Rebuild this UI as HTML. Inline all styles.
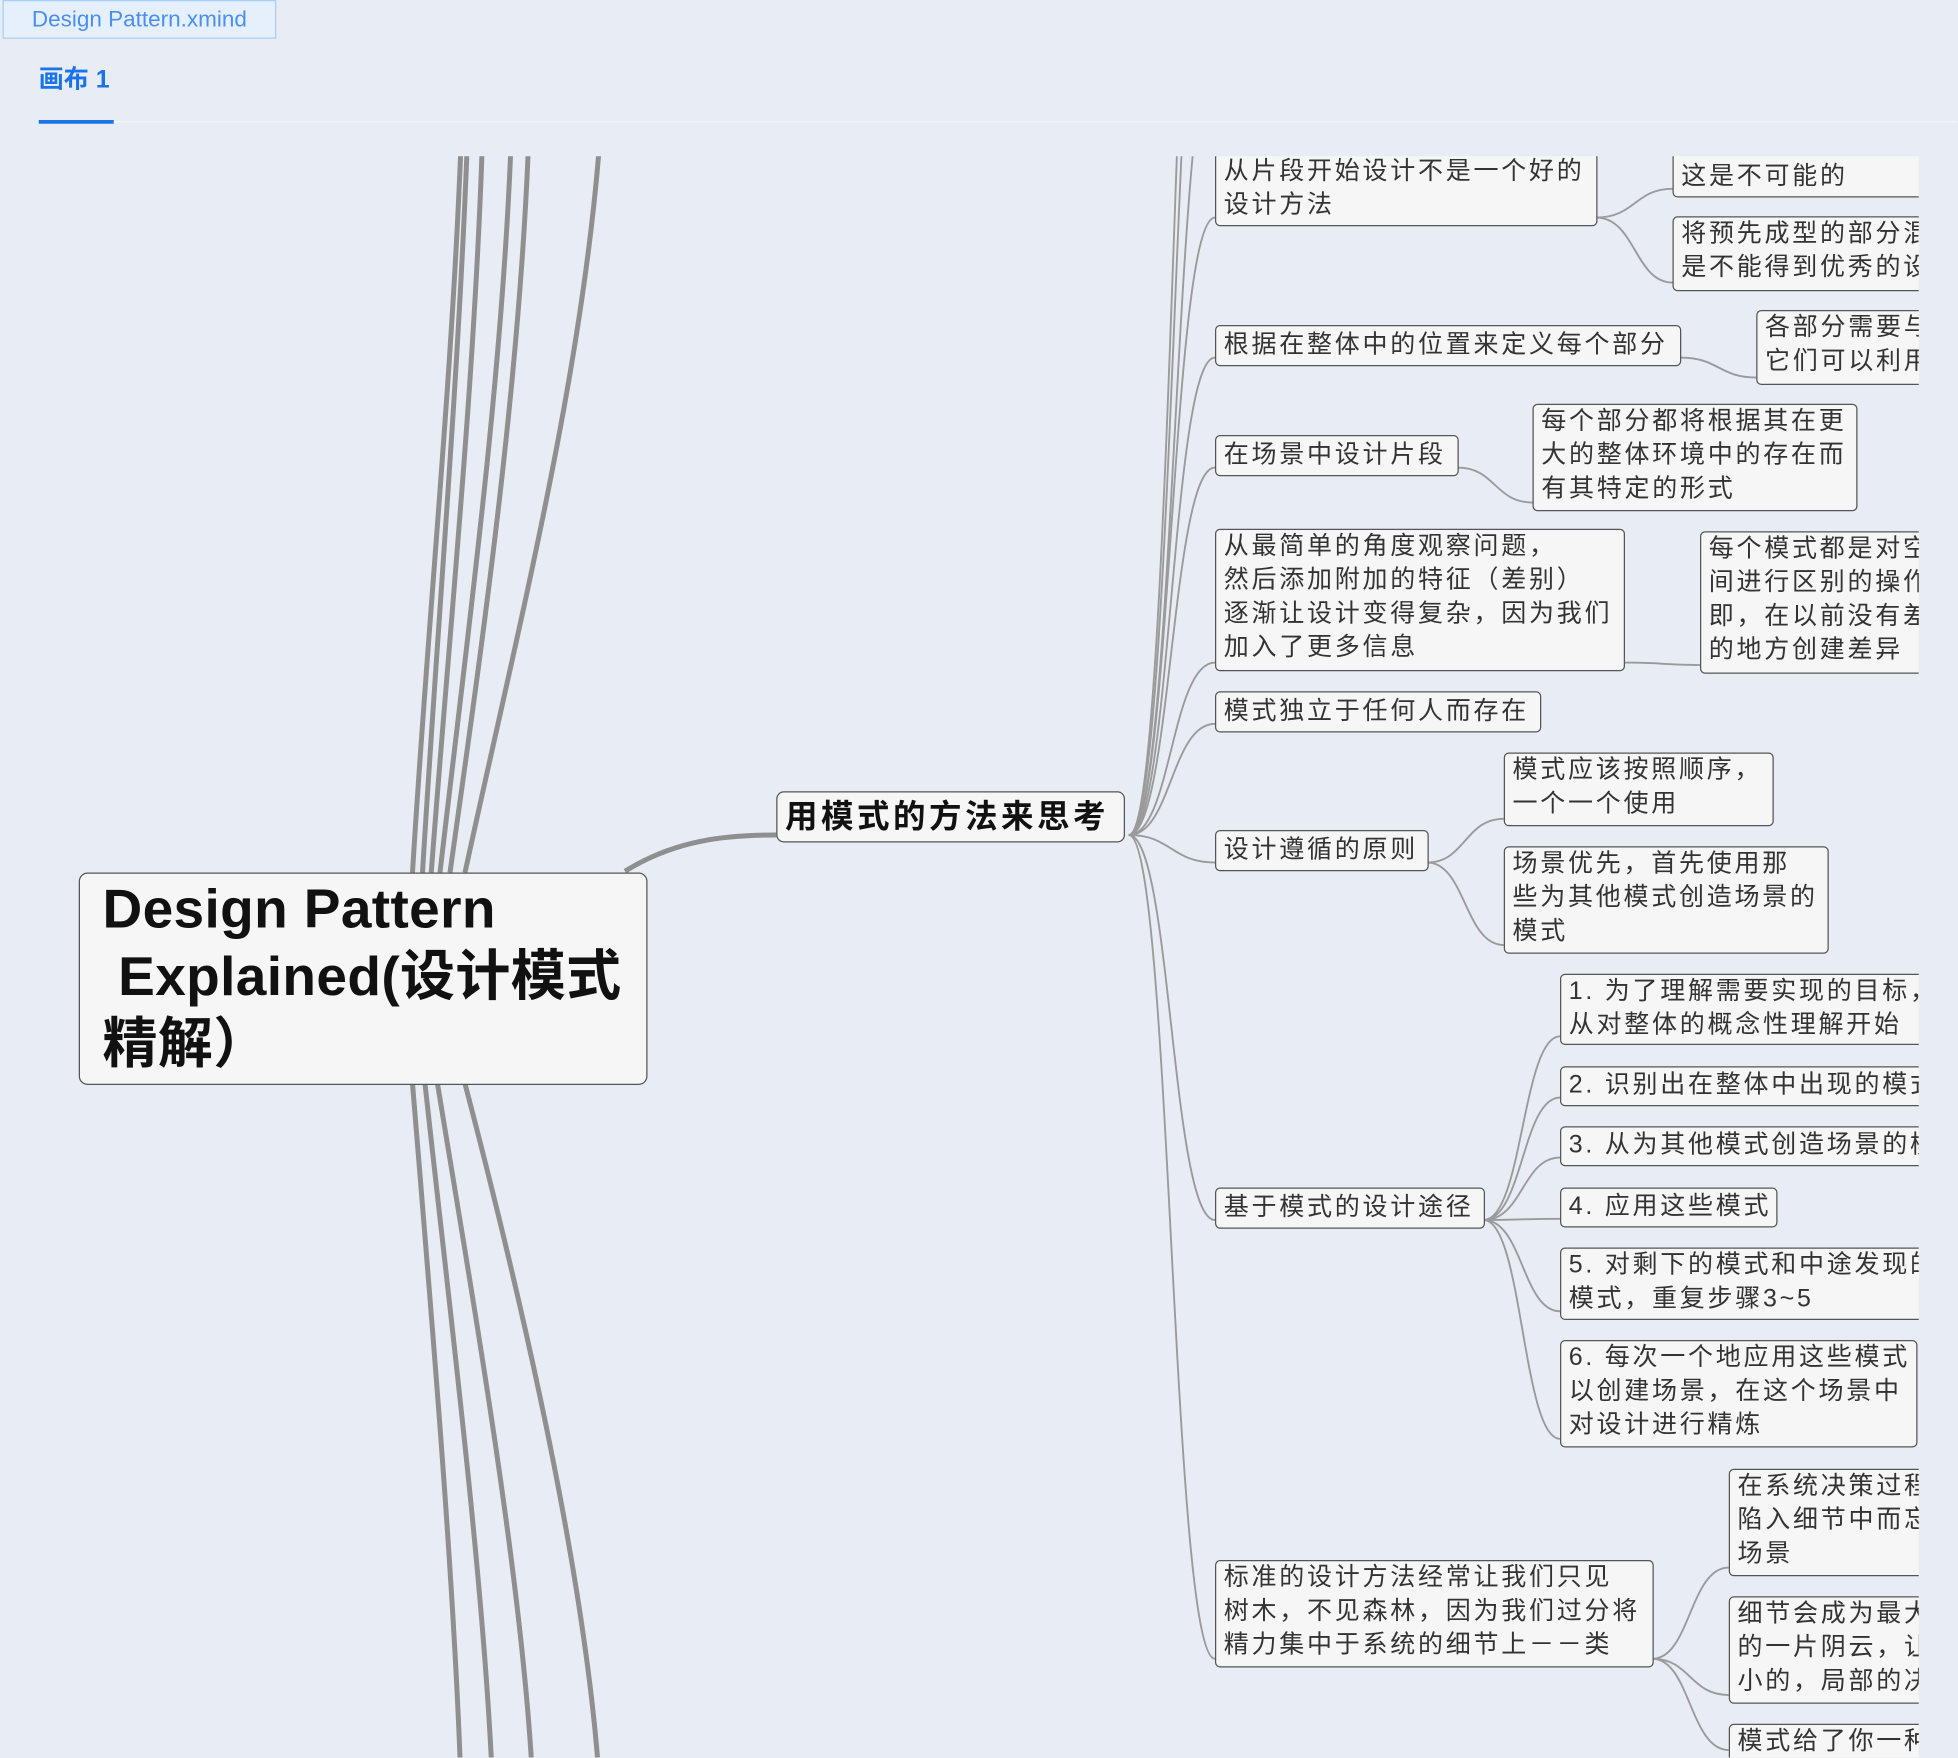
<!DOCTYPE html>
<html><head><meta charset="utf-8"><style>
html,body{margin:0;padding:0;}
body{width:1958px;height:1758px;overflow:hidden;background:#e8ecf4;}
#s{position:absolute;left:0;top:0;width:1566px;height:1406px;transform:scale(1.25);transform-origin:0 0;font-family:"Liberation Sans","Noto Sans CJK SC",sans-serif;}
.tab{position:absolute;left:2px;top:0;width:217px;height:29px;background:#e6f0fc;border:1px solid #a8cdf7;color:#4a8ff0;font-size:18px;line-height:29px;text-align:center;}
.cv{position:absolute;left:31px;top:47px;color:#1a73e8;font-size:20px;font-weight:bold;}
.ul{position:absolute;left:31px;top:96px;width:60px;height:3px;background:#1a73e8;}
.hl{position:absolute;left:91px;top:97px;width:1475px;height:1px;background:#f4f6fa;}
#clip{position:absolute;left:0;top:125px;width:1535px;height:1281px;overflow:hidden;}
#in{position:absolute;left:0;top:-125px;width:1566px;height:1406px;}
.b{position:absolute;box-sizing:border-box;background:#f6f6f6;border:1.5px solid #555;border-radius:4px;padding:0 6px;font-size:20px;line-height:27px;color:#333;white-space:nowrap;overflow:hidden;letter-spacing:2.2px;}
svg{position:absolute;left:0;top:0;}
</style></head><body><div id="s">
<div class="tab">Design Pattern.xmind</div>
<div class="cv">画布 1</div><div class="ul"></div><div class="hl"></div>
<div id="clip"><div id="in">
<svg width="1566" height="1406" fill="none">
<g stroke="#8f8f8f" stroke-width="4">
<path d="M330 698 C342 500 362 300 369 110"/>
<path d="M338 698 C350 500 367 300 374 110"/>
<path d="M345 698 C360 500 380 300 386 110"/>
<path d="M352 698 C375 500 402 300 409 110"/>
<path d="M360 698 C388 500 416 300 423 110"/>
<path d="M372 698 C415 500 466 300 480 110"/>
<path d="M330 867 C345 1050 362 1250 368 1406"/>
<path d="M340 867 C360 1050 385 1250 393 1406"/>
<path d="M350 867 C380 1050 415 1250 425 1406"/>
<path d="M372 867 C420 1050 465 1250 478 1406"/>
<path d="M500 697 C540 672 580 668 621 668"/>
</g>
<g stroke="#9a9a9a" stroke-width="1.5">
<path d="M903 668 C940 668 940 -300 972 -300"/>
<path d="M903 668 C940 668 940 -150 972 -150"/>
<path d="M903 668 C940 668 940 40 972 40"/>
<path d="M903 668 C937 668 937 174 972 174"/>
<path d="M903 668 C937 668 937 286 972 286"/>
<path d="M903 668 C937 668 937 374 972 374"/>
<path d="M903 668 C937 668 937 530 972 530"/>
<path d="M903 668 C937 668 937 579 972 579"/>
<path d="M903 668 C937 668 937 690 972 690"/>
<path d="M903 668 C937 668 937 976 972 976"/>
<path d="M903 668 C937 668 937 1327 972 1327"/>
<path d="M1277 174 C1308 174 1308 151 1338 151"/>
<path d="M1277 174 C1308 174 1308 226 1338 226"/>
<path d="M1344 286 C1375 286 1375 302 1405 302"/>
<path d="M1166 374 C1196 374 1196 402 1226 402"/>
<path d="M1299 530 C1330 530 1330 532 1360 532"/>
<path d="M1142 690 C1172 690 1172 655 1203 655"/>
<path d="M1142 690 C1172 690 1172 756 1203 756"/>
<path d="M1187 976 C1218 976 1218 829 1248 829"/>
<path d="M1187 976 C1218 976 1218 878 1248 878"/>
<path d="M1187 976 C1218 976 1218 926 1248 926"/>
<path d="M1187 976 C1218 976 1218 975 1248 975"/>
<path d="M1187 976 C1218 976 1218 1049 1248 1049"/>
<path d="M1187 976 C1218 976 1218 1151 1248 1151"/>
<path d="M1322 1327 C1352 1327 1352 1254 1383 1254"/>
<path d="M1322 1327 C1352 1327 1352 1356 1383 1356"/>
<path d="M1322 1327 C1352 1327 1352 1400 1383 1400"/>
</g>
</svg>
<div class="b" style="left:63px;top:698px;width:455px;height:170px;border-radius:7px;padding:2px 18px;font-size:44px;line-height:54px;font-weight:bold;color:#111;letter-spacing:0.3px;">Design Pattern<br>&nbsp;Explained(设计模式<br>精解）</div>
<div class="b" style="left:621px;top:633px;width:279px;height:41px;font-size:26px;line-height:38px;font-weight:bold;color:#111;border-radius:6px;letter-spacing:2.8px;">用模式的方法来思考</div>

<div class="b" style="left:972px;top:122px;width:306px;height:59px;padding-top:1px;">从片段开始设计不是一个好的<br>设计方法</div>
<div class="b" style="left:972px;top:260px;width:373px;height:33px;line-height:30px;">根据在整体中的位置来定义每个部分</div>
<div class="b" style="left:972px;top:348px;width:195px;height:33px;line-height:30px;">在场景中设计片段</div>
<div class="b" style="left:972px;top:423px;width:328px;height:114px;">从最简单的角度观察问题，<br>然后添加附加的特征（差别）<br>逐渐让设计变得复杂，因为我们<br>加入了更多信息</div>
<div class="b" style="left:972px;top:553px;width:261px;height:33px;line-height:30px;">模式独立于任何人而存在</div>
<div class="b" style="left:972px;top:664px;width:171px;height:33px;line-height:30px;">设计遵循的原则</div>
<div class="b" style="left:972px;top:950px;width:216px;height:33px;line-height:30px;">基于模式的设计途径</div>
<div class="b" style="left:972px;top:1248px;width:351px;height:86px;">标准的设计方法经常让我们只见<br>树木，不见森林，因为我们过分将<br>精力集中于系统的细节上－－类</div>

<div class="b" style="left:1338px;top:122px;width:230px;height:36px;line-height:36px;">这是不可能的</div>
<div class="b" style="left:1338px;top:173px;width:230px;height:60px;">将预先成型的部分混<br>是不能得到优秀的设</div>
<div class="b" style="left:1405px;top:248px;width:170px;height:60px;">各部分需要与<br>它们可以利用</div>
<div class="b" style="left:1226px;top:323px;width:260px;height:86px;">每个部分都将根据其在更<br>大的整体环境中的存在而<br>有其特定的形式</div>
<div class="b" style="left:1360px;top:425px;width:200px;height:114px;">每个模式都是对空<br>间进行区别的操作<br>即，在以前没有差<br>的地方创建差异</div>
<div class="b" style="left:1203px;top:602px;width:216px;height:59px;">模式应该按照顺序，<br>一个一个使用</div>
<div class="b" style="left:1203px;top:677px;width:260px;height:86px;">场景优先，首先使用那<br>些为其他模式创造场景的<br>模式</div>
<div class="b" style="left:1248px;top:779px;width:320px;height:57px;">1. 为了理解需要实现的目标，<br>从对整体的概念性理解开始</div>
<div class="b" style="left:1248px;top:853px;width:320px;height:32px;line-height:29px;">2. 识别出在整体中出现的模式</div>
<div class="b" style="left:1248px;top:901px;width:320px;height:32px;line-height:29px;">3. 从为其他模式创造场景的模</div>
<div class="b" style="left:1248px;top:950px;width:174px;height:32px;line-height:29px;">4. 应用这些模式</div>
<div class="b" style="left:1248px;top:998px;width:320px;height:58px;">5. 对剩下的模式和中途发现的<br>模式，重复步骤3~5</div>
<div class="b" style="left:1248px;top:1072px;width:286px;height:86px;">6. 每次一个地应用这些模式<br>以创建场景，在这个场景中<br>对设计进行精炼</div>
<div class="b" style="left:1383px;top:1175px;width:200px;height:86px;">在系统决策过程<br>陷入细节中而忘<br>场景</div>
<div class="b" style="left:1383px;top:1277px;width:200px;height:86px;">细节会成为最大<br>的一片阴云，让<br>小的，局部的决</div>
<div class="b" style="left:1383px;top:1379px;width:200px;height:60px;">模式给了你一种</div>
</div></div>
</div></body></html>
